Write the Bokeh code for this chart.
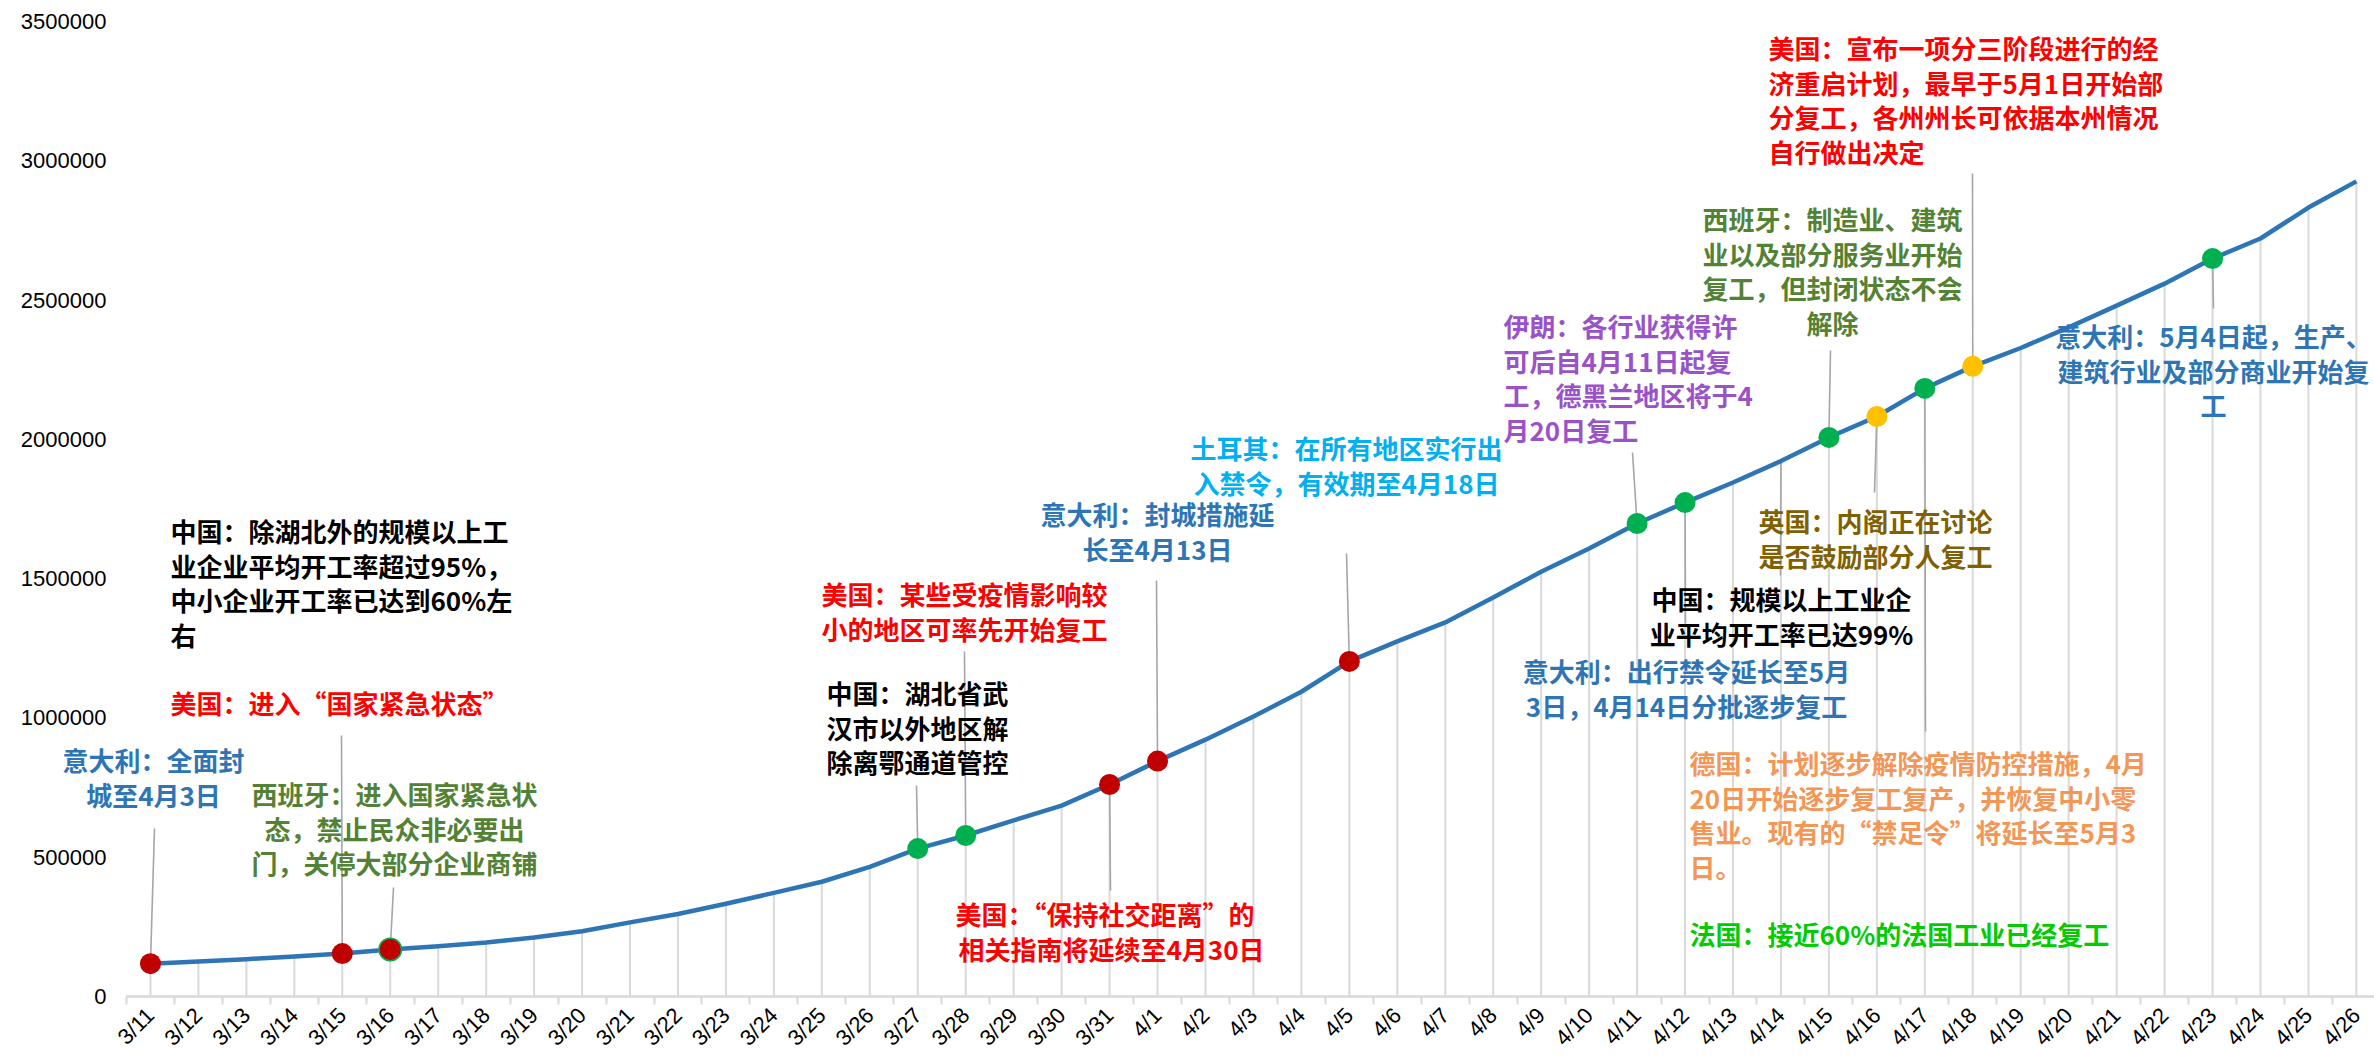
from bokeh.plotting import figure
from bokeh.models import Range1d, FixedTicker, NumeralTickFormatter
from bokeh.core.properties import value
from bokeh.embed import file_html
from bokeh.resources import INLINE

# ---------------- data ----------------
dates = ["3/11", "3/12", "3/13", "3/14", "3/15", "3/16", "3/17", "3/18", "3/19", "3/20",
         "3/21", "3/22", "3/23", "3/24", "3/25", "3/26", "3/27", "3/28", "3/29", "3/30",
         "3/31", "4/1", "4/2", "4/3", "4/4", "4/5", "4/6", "4/7", "4/8", "4/9",
         "4/10", "4/11", "4/12", "4/13", "4/14", "4/15", "4/16", "4/17", "4/18", "4/19",
         "4/20", "4/21", "4/22", "4/23", "4/24", "4/25", "4/26"]
cases = [118000, 126000, 134000, 144000, 154000, 169000, 180000, 194000, 212000, 234000,
         266000, 296000, 333000, 372000, 412000, 465000, 531000, 578000, 632000, 685000,
         761000, 845000, 922000, 1005000, 1094000, 1203000, 1275000, 1343000, 1432000, 1525000,
         1608000, 1698000, 1773000, 1845000, 1922000, 2007000, 2082000, 2183000, 2262000, 2328000,
         2402000, 2480000, 2559000, 2649000, 2721000, 2832000, 2926000]
y_ticks = [0, 500000, 1000000, 1500000, 2000000, 2500000, 3000000, 3500000]

event_dates = ["3/11", "3/15", "3/16", "3/27", "3/28", "3/31", "4/1", "4/5",
               "4/11", "4/12", "4/15", "4/16", "4/17", "4/18", "4/23"]
event_kinds = ["red", "red", "red", "green", "green", "red", "red", "red",
               "green", "green", "green", "yellow", "green", "yellow", "green"]

# ---------------- geometry (page pixels) ----------------
W, H = 2374, 1062
FRAME_L, FRAME_R, FRAME_T, FRAME_B = 126, 2374, 21, 996
SP = 47.955
X0 = -0.5
X1 = X0 + (FRAME_R - FRAME_L) / SP
YMAX = 3500000

def px_x(px):
    return X0 + (px - FRAME_L) / SP

def px_y(py):
    return (FRAME_B - py) / (FRAME_B - FRAME_T) * YMAX

KIND_COLORS = {"red": "#c00000", "green": "#00b050", "yellow": "#ffc000"}
BLUE = "#2e75b6"
RED = "#ff0000"
SPAIN = "#548235"
BLACK = "#000000"
TURKEY = "#00b0f0"
IRAN = "#9a52c9"
UK = "#806000"
GERMANY = "#f39656"
FRANCE = "#00cc00"

# annotations: date, lines, color, align, text x (px), first line y (px), leader end (px) or None
annotations = [
    ("3/11", ["意大利：全面封", "城至4月3日"], BLUE, "center", 153, 759, (154, 828)),
    ("3/15", ["美国：进入“国家紧急状态”"], RED, "left", 170, 702, (341, 735)),
    (None, ["中国：除湖北外的规模以上工", "业企业平均开工率超过95%，", "中小企业开工率已达到60%左", "右"],
     BLACK, "left", 170, 530, None),
    ("3/16", ["西班牙：进入国家紧急状", "态，禁止民众非必要出", "门，关停大部分企业商铺"],
     SPAIN, "center", 394, 793, (393, 887)),
    ("3/27", ["中国：湖北省武", "汉市以外地区解", "除离鄂通道管控"], BLACK, "center", 917, 692, (916, 785)),
    ("3/28", ["美国：某些受疫情影响较", "小的地区可率先开始复工"], RED, "center", 964, 593, (964, 651)),
    ("3/31", ["美国：“保持社交距离”的", "相关指南将延续至4月30日"], RED, "center", 1111, 913, (1110, 890)),
    ("4/1", ["意大利：封城措施延", "长至4月13日"], BLUE, "center", 1157, 513, (1156, 580)),
    ("4/5", ["土耳其：在所有地区实行出", "入禁令，有效期至4月18日"], TURKEY, "center", 1346, 447, (1346, 553)),
    ("4/11", ["伊朗：各行业获得许", "可后自4月11日起复", "工，德黑兰地区将于4", "月20日复工"],
     IRAN, "left", 1503, 325, (1632, 452)),
    ("4/12", ["中国：规模以上工业企", "业平均开工率已达99%"], BLACK, "center", 1781, 598, (1685, 623)),
    ("4/14", ["意大利：出行禁令延长至5月", "3日，4月14日分批逐步复工"], BLUE, "center", 1686, 670, (1780, 575)),
    ("4/15", ["西班牙：制造业、建筑", "业以及部分服务业开始", "复工，但封闭状态不会", "解除"],
     SPAIN, "center", 1832, 218, (1830, 350)),
    ("4/16", ["英国：内阁正在讨论", "是否鼓励部分人复工"], UK, "center", 1875, 520, (1874, 492)),
    ("4/17", ["德国：计划逐步解除疫情防控措施，4月", "20日开始逐步复工复产，并恢复中小零",
              "售业。现有的“禁足令”将延长至5月3", "日。"], GERMANY, "left", 1689, 762, (1925, 731)),
    (None, ["法国：接近60%的法国工业已经复工"], FRANCE, "left", 1689, 933, None),
    ("4/18", ["美国：宣布一项分三阶段进行的经", "济重启计划，最早于5月1日开始部",
              "分复工，各州州长可依据本州情况", "自行做出决定"], RED, "left", 1768, 47, (1972, 173)),
    ("4/23", ["意大利：5月4日起，生产、", "建筑行业及部分商业开始复", "工"], BLUE, "center", 2213, 335, (2213, 308)),
]
LINE_H = 34.5

# ---------------- figure ----------------
p = figure(width=W, height=H, output_backend="svg", toolbar_location=None,
           x_range=Range1d(X0, X1), y_range=Range1d(0, YMAX),
           min_border_left=FRAME_L, min_border_right=W - FRAME_R,
           min_border_top=FRAME_T, min_border_bottom=H - FRAME_B)
p.outline_line_color = None
p.background_fill_color = "white"
p.border_fill_color = "white"
p.xgrid.grid_line_color = None
p.ygrid.grid_line_color = None

idx = list(range(len(dates)))
pos = {d: i for i, d in enumerate(dates)}

# drop lines
p.segment(x0=idx, y0=[0] * len(idx), x1=idx, y1=cases, line_color="#d9d9d9", line_width=2)

# leader lines
lx0, ly0, lx1, ly1 = [], [], [], []
for d, lines, col, align, tx, ty, lead in annotations:
    if d is None or lead is None:
        continue
    i = pos[d]
    lx0.append(i)
    ly0.append(cases[i])
    lx1.append(px_x(lead[0]))
    ly1.append(px_y(lead[1]))
p.segment(x0=lx0, y0=ly0, x1=lx1, y1=ly1, line_color="#a6a6a6", line_width=1.6)

# main line
p.line(idx, cases, line_color=BLUE, line_width=4.5, line_join="round")

# markers
ex = [pos[d] for d in event_dates]
ey = [cases[pos[d]] for d in event_dates]
ec = [KIND_COLORS[k] for k in event_kinds]
p.scatter([pos["3/16"]], [cases[pos["3/16"]]], size=24, fill_color="#00b050", line_color=None)
p.scatter(ex, ey, size=21, fill_color=ec, line_color=None)

# annotation texts (overlay level so they are not clipped to the frame)
for d, lines, col, align, tx, ty, lead in annotations:
    xs = [px_x(tx)] * len(lines)
    ys = [px_y(ty + k * LINE_H) for k in range(len(lines))]
    p.text(xs, ys, text=lines, text_color=col, text_align=align, text_baseline="middle",
           text_font=value("Noto Sans CJK SC"), text_font_style="bold", text_font_size="26px",
           level="overlay")

# axes
xa = p.xaxis[0]
xa.ticker = FixedTicker(ticks=idx, minor_ticks=[i - 0.5 for i in range(len(dates) + 1)])
xa.major_label_overrides = {i: d for i, d in enumerate(dates)}
xa.major_label_orientation = 0.785398
xa.major_label_text_font = "Liberation Sans"
xa.major_label_text_font_size = "22px"
xa.major_label_text_color = "#000000"
xa.major_label_standoff = 7
xa.major_tick_line_color = None
xa.major_tick_out = 0
xa.major_tick_in = 0
xa.minor_tick_line_color = "#d9d9d9"
xa.minor_tick_line_width = 2
xa.minor_tick_out = 8
xa.minor_tick_in = 0
xa.axis_line_color = "#d9d9d9"
xa.axis_line_width = 2.5

ya = p.yaxis[0]
ya.ticker = FixedTicker(ticks=y_ticks)
ya.formatter = NumeralTickFormatter(format="0")
ya.axis_line_color = None
ya.major_tick_line_color = None
ya.minor_tick_line_color = None
ya.major_tick_out = 0
ya.major_label_standoff = 20
ya.major_label_text_font = "Liberation Sans"
ya.major_label_text_font_size = "22px"
ya.major_label_text_color = "#000000"

open("out.html", "w").write(file_html(p, INLINE))
